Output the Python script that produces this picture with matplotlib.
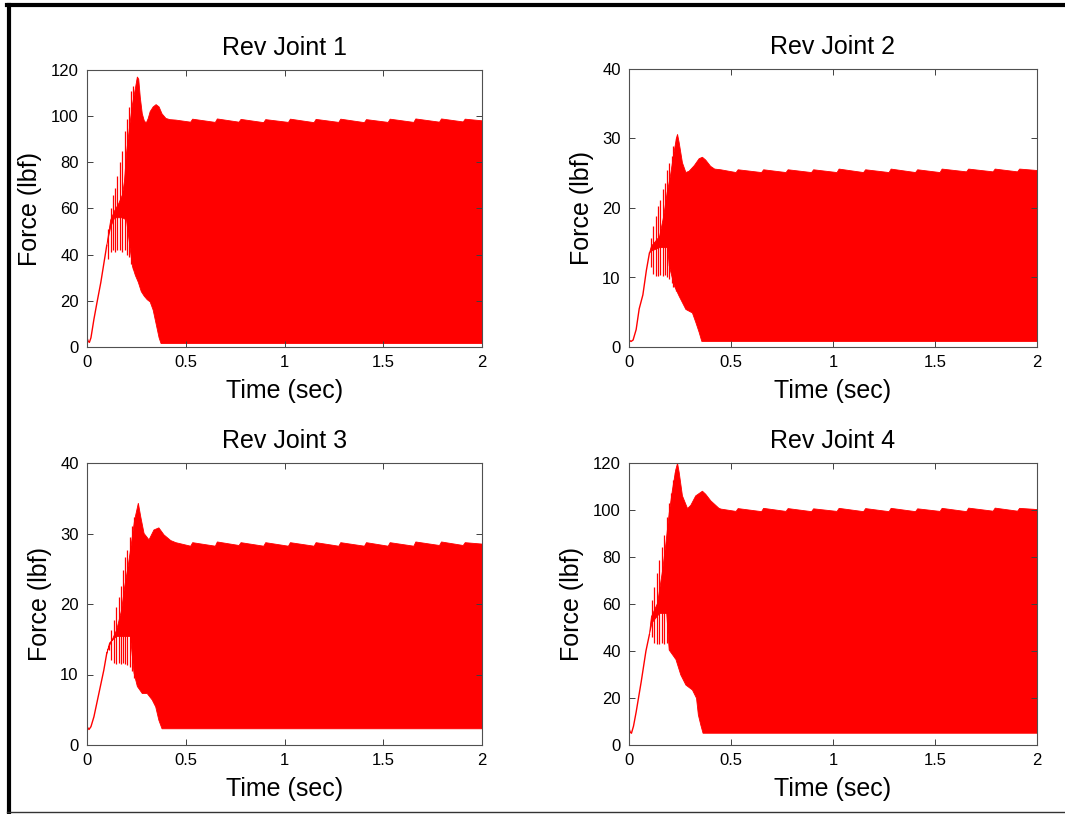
import matplotlib
matplotlib.use('Agg')
import matplotlib.pyplot as plt
from matplotlib.lines import Line2D

plt.rcParams['font.family'] = ['Liberation Sans', 'DejaVu Sans']

W, H = 1065, 814

# time points of the slow saw-tooth on the upper edge (same in all joints)
t_steady = [0.45, 0.525, 0.535, 0.65, 0.66, 0.77, 0.78, 0.895, 0.905, 1.02, 1.03,
            1.15, 1.16, 1.275, 1.285, 1.405, 1.415, 1.525, 1.535, 1.655, 1.665,
            1.785, 1.795, 1.905, 1.915, 2.0]

# ---- Rev Joint 1
t_init1 = [0, 0.006, 0.012, 0.02, 0.035, 0.05, 0.07, 0.085, 0.1]
v_init1 = [4, 2.5, 2, 4, 12, 19, 28, 36, 44]
t_osc1 = [0.106, 0.12, 0.133, 0.142, 0.154, 0.167, 0.179, 0.191, 0.201, 0.213, 0.224, 0.234]
hi_osc1 = [51, 60, 66, 69, 74, 80, 85, 93.5, 98.6, 104, 111, 113]
lo_osc1 = [38, 41, 42, 41, 42, 42, 41, 42, 40, 39, 36, 34]
t_top1 = [0.1, 0.12, 0.14, 0.16, 0.18, 0.19, 0.2, 0.215, 0.23, 0.245, 0.255, 0.262,
          0.27, 0.28, 0.29, 0.3, 0.31, 0.32, 0.335, 0.35, 0.365, 0.38, 0.4, 0.42]
v_top1 = [44, 55, 59, 62, 66, 72, 84, 95, 105, 112, 117, 116,
          108, 101, 98, 97, 99, 102, 104, 105, 104, 101, 99, 98.5]
steady1 = [98.3, 97.4, 98.7, 97.3, 98.8, 97.4, 98.6, 97.2, 98.5, 97.3, 98.7, 97.2, 98.6,
           97.3, 98.7, 97.2, 98.5, 97.3, 98.7, 97.3, 98.8, 97.4, 98.8, 97.5, 98.7, 98.0]
t_bot1 = [0.1, 0.12, 0.14, 0.16, 0.18, 0.2, 0.215, 0.23, 0.245, 0.26, 0.275, 0.29,
          0.305, 0.32, 0.335, 0.345, 0.355, 0.365, 0.375, 2.0]
v_bot1 = [44, 52, 56, 56, 56, 55, 45, 35, 31, 28, 24, 22, 20.5, 19.5, 16, 12, 8, 4, 1.5, 1.5]

# ---- Rev Joint 2
t_init2 = [0, 0.01, 0.02, 0.035, 0.05, 0.068, 0.085, 0.1]
v_init2 = [1.0, 0.8, 1.0, 2.5, 5.5, 7.5, 11, 13.5]
t_osc2 = [0.108, 0.119, 0.132, 0.143, 0.153, 0.165, 0.176, 0.187, 0.197, 0.209, 0.218, 0.23]
hi_osc2 = [15.7, 17.4, 18.8, 20.3, 21.2, 22.7, 23.6, 25.5, 26.5, 27.5, 28.9, 30.1]
lo_osc2 = [11.5, 10.5, 10.2, 10.2, 10.3, 10.2, 10.3, 10.0, 9.8, 9.2, 8.6, 8.0]
t_top2 = [0.1, 0.11, 0.15, 0.17, 0.187, 0.203, 0.22, 0.233, 0.238, 0.246, 0.262,
          0.279, 0.295, 0.32, 0.344, 0.36, 0.376, 0.4, 0.42]
v_top2 = [13.5, 14.5, 15.9, 18.8, 22.2, 24.6, 27.9, 30.1, 30.6, 29.4, 26.5,
          25.1, 25.3, 26.1, 27.1, 27.3, 26.9, 26.0, 25.6]
steady2 = [25.5, 25.1, 25.5, 25.1, 25.5, 25.1, 25.5, 25.1, 25.5, 25.1, 25.6, 25.1, 25.5,
           25.1, 25.6, 25.1, 25.5, 25.1, 25.6, 25.2, 25.6, 25.2, 25.6, 25.2, 25.6, 25.4]
t_bot2 = [0.1, 0.11, 0.15, 0.19, 0.197, 0.222, 0.246, 0.279, 0.311, 0.328, 0.344, 0.357, 2.0]
v_bot2 = [13.5, 13.8, 14.3, 14.3, 11.7, 8.8, 7.3, 5.4, 4.9, 3.5, 2.1, 0.8, 0.8]

# ---- Rev Joint 3
t_init3 = [0, 0.01, 0.02, 0.035, 0.06, 0.085, 0.1]
v_init3 = [2.6, 2.2, 2.6, 4.0, 7.3, 10.6, 13]
t_osc3 = [0.111, 0.123, 0.137, 0.149, 0.16, 0.171, 0.182, 0.194, 0.204, 0.216, 0.228, 0.238]
hi_osc3 = [14.4, 16.3, 17.7, 19.6, 21.0, 22.5, 24.8, 26.7, 27.7, 29.5, 31.0, 32.4]
lo_osc3 = [13.5, 12.0, 11.6, 11.5, 11.6, 11.5, 11.6, 11.5, 11.3, 11.0, 10.5, 9.5]
t_top3 = [0.1, 0.111, 0.15, 0.175, 0.191, 0.208, 0.225, 0.241, 0.26, 0.272, 0.289,
          0.314, 0.339, 0.364, 0.39, 0.424]
v_top3 = [13, 13.9, 16.3, 19.1, 22.5, 25.3, 28.6, 31.9, 34.3, 32.4, 30.0,
          29.1, 30.5, 30.8, 29.8, 29.0]
steady3 = [28.7, 28.2, 28.7, 28.2, 28.8, 28.3, 28.7, 28.2, 28.7, 28.2, 28.7, 28.2, 28.7,
           28.2, 28.7, 28.2, 28.7, 28.2, 28.7, 28.2, 28.8, 28.3, 28.8, 28.3, 28.7, 28.5]
t_bot3 = [0.1, 0.115, 0.15, 0.22, 0.238, 0.255, 0.28, 0.305, 0.33, 0.348, 0.364, 0.38, 2.0]
v_bot3 = [13, 14.5, 15.4, 15.4, 10.2, 8.3, 7.3, 7.3, 6.4, 5.4, 3.5, 2.3, 2.3]

# ---- Rev Joint 4
t_init4 = [0, 0.006, 0.012, 0.022, 0.035, 0.06, 0.083, 0.1]
v_init4 = [7, 5.5, 5, 8, 14, 27, 40, 47]
t_osc4 = [0.113, 0.124, 0.135, 0.148, 0.16, 0.173, 0.184, 0.194, 0.205, 0.217, 0.226]
hi_osc4 = [61.7, 67.4, 73, 78.7, 84.4, 89.4, 97.2, 102.8, 107.1, 112.8, 116.3]
lo_osc4 = [46, 43.5, 43, 43, 43.3, 43, 43.5, 43, 42, 40, 37]
t_top4 = [0.1, 0.11, 0.14, 0.165, 0.181, 0.197, 0.213, 0.229, 0.238, 0.246, 0.262,
          0.287, 0.303, 0.327, 0.36, 0.376, 0.401, 0.44]
v_top4 = [47, 54.6, 60.3, 74.5, 85.8, 98.6, 108.5, 117, 119.9, 116, 106,
          100.6, 102, 106, 108, 106.7, 103.9, 100.8]
steady4 = [100.4, 99.4, 100.6, 99.3, 100.7, 99.4, 100.6, 99.3, 100.5, 99.4, 100.7, 99.3, 100.6,
           99.3, 100.7, 99.3, 100.5, 99.4, 100.7, 99.3, 100.8, 99.5, 100.8, 99.5, 100.7, 100.2]
t_bot4 = [0.1, 0.113, 0.15, 0.185, 0.197, 0.23, 0.254, 0.279, 0.311, 0.331, 0.34, 0.352, 0.363, 2.0]
v_bot4 = [47, 52, 56, 56, 40.4, 36.4, 29.8, 25.5, 23.4, 19.9, 12.8, 8.5, 5.0, 5.0]

titles = ['Rev Joint 1', 'Rev Joint 2', 'Rev Joint 3', 'Rev Joint 4']
ymax = [120, 40, 40, 120]
ystep = [20, 10, 10, 20]
panels = [
    (t_init1, v_init1, t_osc1, lo_osc1, hi_osc1, t_top1, v_top1, steady1, t_bot1, v_bot1),
    (t_init2, v_init2, t_osc2, lo_osc2, hi_osc2, t_top2, v_top2, steady2, t_bot2, v_bot2),
    (t_init3, v_init3, t_osc3, lo_osc3, hi_osc3, t_top3, v_top3, steady3, t_bot3, v_bot3),
    (t_init4, v_init4, t_osc4, lo_osc4, hi_osc4, t_top4, v_top4, steady4, t_bot4, v_bot4),
]
# axes boxes in pixels: left, right, top, bottom
boxes = [(87, 482, 70, 347), (629, 1037, 69, 347), (87, 482, 463, 745), (629, 1037, 463, 745)]

fig = plt.figure(figsize=(W / 100, H / 100), dpi=100)

for i, (p, box) in enumerate(zip(panels, boxes)):
    t_init, v_init, t_osc, lo_osc, hi_osc, t_top, v_top, steady, t_bot, v_bot = p
    l, r, t, b = box
    ax = fig.add_axes([l / W, 1 - b / H, (r - l) / W, (b - t) / H])

    top_t = t_top + t_steady
    top_v = v_top + steady
    ax.fill(top_t + t_bot[::-1], top_v + v_bot[::-1], color='red', lw=0.6)
    ax.vlines(t_osc, lo_osc, hi_osc, color='red', lw=0.9)
    ax.plot(t_init, v_init, color='red', lw=1.0)

    ax.set_xlim(0, 2)
    ax.set_ylim(0, ymax[i])
    ax.set_xticks([0, 0.5, 1, 1.5, 2])
    ax.set_xticklabels(['0', '0.5', '1', '1.5', '2'])
    ax.set_yticks(range(0, ymax[i] + 1, ystep[i]))
    ax.tick_params(direction='in', length=4, width=0.7, color='#404040',
                   top=True, right=True, labelsize=12, pad=6)
    for s in ax.spines.values():
        s.set_color('#505050')
        s.set_linewidth(0.8)
    ax.set_title(titles[i], fontsize=18, pad=11)
    ax.set_xlabel('Time (sec)', fontsize=18, labelpad=6)
    ax.set_ylabel('Force (lbf)', fontsize=18, labelpad=6)

# black frame round the figure (left, top thick; bottom thin)
fig.add_artist(Line2D([9 / W, 9 / W], [1 - 5 / H, 1 - 812 / H], color='black', lw=3,
                      transform=fig.transFigure))
fig.add_artist(Line2D([7 / W, 1.0], [1 - 5 / H, 1 - 5 / H], color='black', lw=3,
                      transform=fig.transFigure))
fig.add_artist(Line2D([7 / W, 1.0], [1 - 812 / H, 1 - 812 / H], color='#333333', lw=1,
                      transform=fig.transFigure))

fig.savefig('out.png', dpi=100)
